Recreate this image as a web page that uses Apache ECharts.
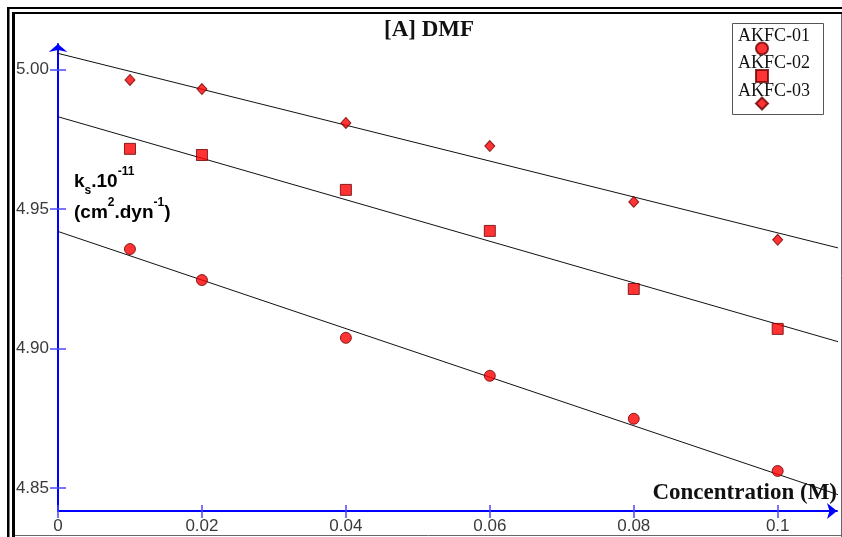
<!DOCTYPE html>
<html>
<head>
<meta charset="utf-8">
<script src="https://cdn.jsdelivr.net/npm/echarts@6/dist/echarts.min.js"></script>
<style>html,body{margin:0;padding:0;background:#fff;}#chart{width:842px;height:537px;}</style>
</head>
<body>
<div id="chart"></div>
<script>
// ---- data ----
const concentration = [0.01, 0.02, 0.04, 0.06, 0.08, 0.1];
const seriesNames = ['AKFC-01', 'AKFC-02', 'AKFC-03'];
const akfc01 = [4.9356, 4.9245, 4.9038, 4.8902, 4.8748, 4.8561];
const akfc02 = [4.9715, 4.9693, 4.9568, 4.9421, 4.9213, 4.9070];
const akfc03 = [4.9962, 4.9929, 4.9808, 4.9725, 4.9525, 4.9389];
// fitted straight lines as drawn in the picture (start/end points)
const fit01 = [[0, 4.9419], [0.1084, 4.8476]];
const fit02 = [[0, 4.9830], [0.1084, 4.9024]];
const fit03 = [[0, 5.0057], [0.1084, 4.9360]];
const xTicks = [0, 0.02, 0.04, 0.06, 0.08, 0.1];
const yTicks = [4.85, 4.90, 4.95, 5.00];
const xRange = [0, 0.10824];
const yRange = [4.84176, 5.00906];

const chart = echarts.init(document.getElementById('chart'), null, {renderer: 'canvas'});
const pts = (ys) => concentration.map((x, i) => [x, ys[i]]);
const markerStyle = {color: '#ff0000', borderColor: '#6a0000', borderWidth: 1};
const axisBlue = '#0000ff';
const tickBlue = '#4a4aff';
const labelFont = {fontFamily: 'Liberation Sans', fontSize: 17, color: '#3a3a3a'};

const option = {
  backgroundColor: '#ffffff',
  animation: false,
  grid: {left: 58, right: 5, top: 44, bottom: 26, containLabel: false},
  xAxis: [{
    type: 'value', position: 'bottom', min: xRange[0], max: xRange[1],
    axisLine: {show: true, onZero: false, lineStyle: {color: axisBlue, width: 2}, symbol: ['none', 'arrow'], symbolSize: [12, 10]},
    axisTick: {show: true, inside: false, length: 7, customValues: xTicks, lineStyle: {color: tickBlue, width: 1.5}},
    axisLabel: Object.assign({show: true, margin: 7, customValues: xTicks, formatter: v => String(+v.toFixed(2))}, labelFont),
    splitLine: {show: false}
  }, {
    type: 'value', position: 'bottom', min: xRange[0], max: xRange[1],
    axisLine: {show: false, onZero: false},
    axisTick: {show: true, inside: true, length: 6, customValues: xTicks, lineStyle: {color: tickBlue, width: 1.5}},
    axisLabel: {show: false},
    splitLine: {show: false}
  }],
  yAxis: [{
    type: 'value', position: 'left', min: yRange[0], max: yRange[1],
    axisLine: {show: true, onZero: false, lineStyle: {color: axisBlue, width: 2}, symbol: ['none', 'arrow'], symbolSize: [14, 8]},
    axisTick: {show: true, inside: false, length: 8, customValues: yTicks, lineStyle: {color: tickBlue, width: 1.5}},
    axisLabel: Object.assign({show: true, margin: 9, customValues: yTicks, formatter: v => v.toFixed(2)}, labelFont),
    splitLine: {show: false}
  }, {
    type: 'value', position: 'left', min: yRange[0], max: yRange[1],
    axisLine: {show: false, onZero: false},
    axisTick: {show: true, inside: true, length: 8, customValues: yTicks, lineStyle: {color: tickBlue, width: 1.5}},
    axisLabel: {show: false},
    splitLine: {show: false}
  }],
  title: {
    text: '[A] DMF', left: 424, top: 14, textAlign: 'center',
    textStyle: {fontFamily: 'Liberation Serif', fontWeight: 'bold', fontSize: 23, color: '#111'}
  },
  legend: {
    data: seriesNames, orient: 'vertical', left: 738, top: 23.5, padding: 0,
    itemWidth: 12, itemHeight: 12, itemGap: -22.5,
    formatter: name => name + '\n ',
    textStyle: {fontFamily: 'Liberation Serif', fontSize: 18, color: '#111', lineHeight: 25, padding: [0, 35, 0, -35]}
  },
  graphic: [
    // double frame
    {type: 'rect', silent: true, shape: {x: 7, y: 7, width: 835, height: 2}, style: {fill: '#000'}},
    {type: 'rect', silent: true, shape: {x: 7, y: 7, width: 2.5, height: 530}, style: {fill: '#000'}},
    {type: 'rect', silent: true, shape: {x: 12, y: 12, width: 830, height: 2}, style: {fill: '#000'}},
    {type: 'rect', silent: true, shape: {x: 12, y: 12, width: 3, height: 525}, style: {fill: '#000'}},
    {type: 'line', silent: true, shape: {x1: 15, y1: 535.5, x2: 842, y2: 535.5}, style: {stroke: '#666', lineWidth: 1}},
    {type: 'line', silent: true, shape: {x1: 841.5, y1: 14, x2: 841.5, y2: 537}, style: {stroke: '#666', lineWidth: 1}},
    // legend box
    {type: 'rect', silent: true, shape: {x: 732.5, y: 23.5, width: 91, height: 91}, style: {fill: 'none', stroke: '#555', lineWidth: 1}},
    // y axis name
    {type: 'text', silent: true, x: 74, y: 166, style: {
      text: '{b|k}{sub|s}{b|.10}{sup|-11}\n{b|(cm}{sup|2}{b|.dyn}{sup|-1}{b|)}',
      rich: {
        b: {fontFamily: 'Liberation Sans', fontWeight: 'bold', fontSize: 19, color: '#111', lineHeight: 31},
        sub: {fontFamily: 'Liberation Sans', fontWeight: 'bold', fontSize: 12, color: '#111', lineHeight: 10, verticalAlign: 'bottom'},
        sup: {fontFamily: 'Liberation Sans', fontWeight: 'bold', fontSize: 12, color: '#111', lineHeight: 14, verticalAlign: 'top'}
      }
    }},
    // x axis name
    {type: 'text', silent: true, x: 837, y: 493, style: {
      text: 'Concentration (M)', align: 'right', verticalAlign: 'middle',
      fontFamily: 'Liberation Serif', fontWeight: 'bold', fontSize: 23, fill: '#111'
    }}
  ],
  series: [
    {type: 'line', data: fit01, xAxisIndex: 0, yAxisIndex: 0, symbol: 'none', silent: true, lineStyle: {color: '#111', width: 1}, z: 1},
    {type: 'line', data: fit02, xAxisIndex: 0, yAxisIndex: 0, symbol: 'none', silent: true, lineStyle: {color: '#111', width: 1}, z: 1},
    {type: 'line', data: fit03, xAxisIndex: 0, yAxisIndex: 0, symbol: 'none', silent: true, lineStyle: {color: '#111', width: 1}, z: 1},
    {name: seriesNames[0], type: 'scatter', data: pts(akfc01), symbol: 'circle', symbolSize: 11, itemStyle: markerStyle, z: 3},
    {name: seriesNames[1], type: 'scatter', data: pts(akfc02), symbol: 'rect', symbolSize: 11, itemStyle: markerStyle, z: 3},
    {name: seriesNames[2], type: 'scatter', data: pts(akfc03), symbol: 'diamond', symbolSize: [10, 11], itemStyle: markerStyle, z: 3}
  ]
};
chart.setOption(option);
</script>
</body>
</html>
